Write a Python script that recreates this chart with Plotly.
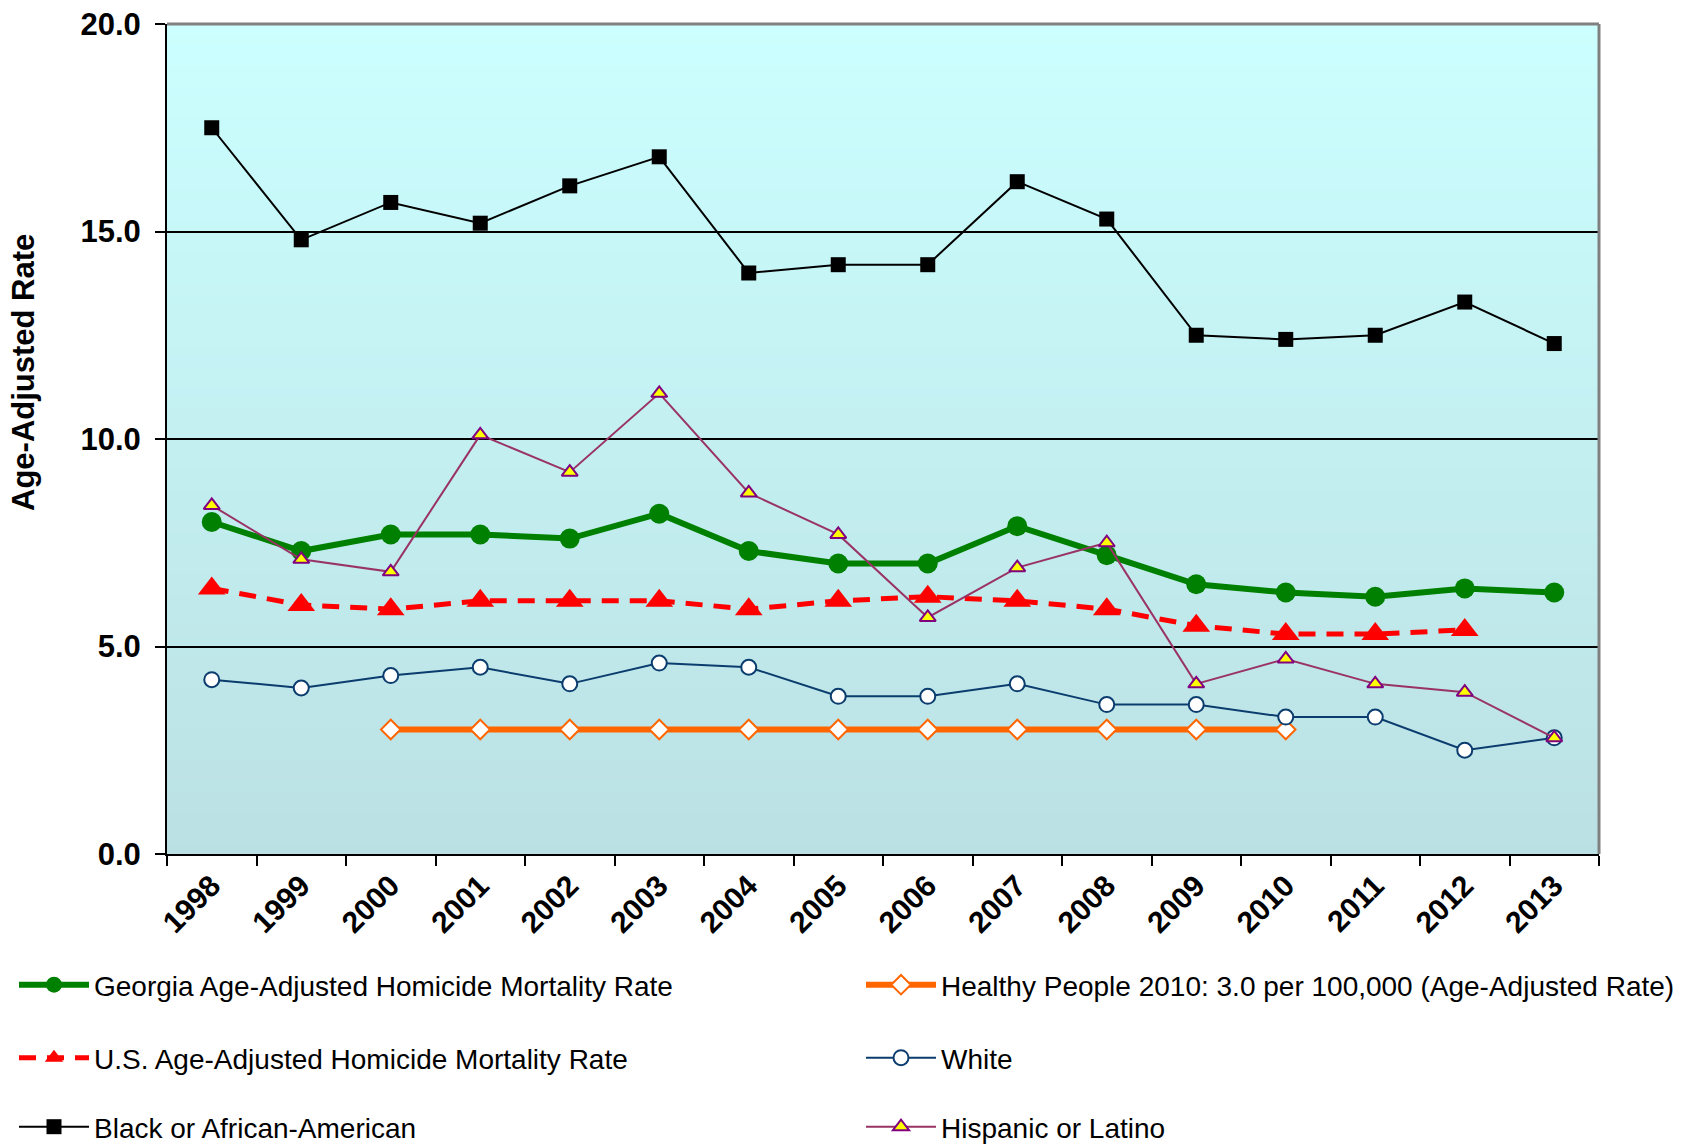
import plotly.graph_objects as go

# Years on the category axis
years = ["1998", "1999", "2000", "2001", "2002", "2003", "2004", "2005",
         "2006", "2007", "2008", "2009", "2010", "2011", "2012", "2013"]

# Age-adjusted homicide mortality rates per 100,000
georgia = [8.0, 7.3, 7.7, 7.7, 7.6, 8.2, 7.3, 7.0, 7.0, 7.9, 7.2, 6.5, 6.3, 6.2, 6.4, 6.3]
healthy_people_years = ["2000", "2001", "2002", "2003", "2004", "2005",
                        "2006", "2007", "2008", "2009", "2010"]
healthy_people = [3.0, 3.0, 3.0, 3.0, 3.0, 3.0, 3.0, 3.0, 3.0, 3.0, 3.0]
us_years = years[:-1]
us_rate = [6.4, 6.0, 5.9, 6.1, 6.1, 6.1, 5.9, 6.1, 6.2, 6.1, 5.9, 5.5, 5.3, 5.3, 5.4]
white = [4.2, 4.0, 4.3, 4.5, 4.1, 4.6, 4.5, 3.8, 3.8, 4.1, 3.6, 3.6, 3.3, 3.3, 2.5, 2.8]
black = [17.5, 14.8, 15.7, 15.2, 16.1, 16.8, 14.0, 14.2, 14.2, 16.2, 15.3, 12.5, 12.4, 12.5, 13.3, 12.3]
hispanic = [8.4, 7.1, 6.8, 10.1, 9.2, 11.1, 8.7, 7.7, 5.7, 6.9, 7.5, 4.1, 4.7, 4.1, 3.9, 2.8]

y_ticks = [0, 5, 10, 15, 20]

W, H = 1683, 1148
ML, MR, MT, MB = 167, 84, 24, 294
PW, PH = W - ML - MR, H - MT - MB

SANS = "Liberation Sans, Arial, sans-serif"
LEG_FONT = dict(family=SANS, size=28, color="black")


def px_x(px):
    return (px - ML) / PW


def px_y(py):
    return (H - MB - py) / PH


fig = go.Figure()

fig.add_trace(go.Scatter(
    x=years, y=georgia, name="Georgia Age-Adjusted Homicide Mortality Rate",
    mode="lines+markers", line=dict(color="#008000", width=6),
    marker=dict(symbol="circle", size=20, color="#008000"),
    legend="legend"))

fig.add_trace(go.Scatter(
    x=healthy_people_years, y=healthy_people,
    name="Healthy People 2010: 3.0 per 100,000 (Age-Adjusted Rate)",
    mode="lines+markers", line=dict(color="#FF6600", width=6),
    marker=dict(symbol="diamond", size=15, color="white",
                line=dict(color="#FF6600", width=2)),
    legend="legend2"))

fig.add_trace(go.Scatter(
    x=us_years, y=us_rate, name="U.S. Age-Adjusted Homicide Mortality Rate",
    mode="lines+markers", line=dict(color="#FF0000", width=5, dash="17px,11px"),
    marker=dict(symbol="triangle-up", size=24, color="#FF0000"),
    legend="legend3"))

fig.add_trace(go.Scatter(
    x=years, y=white, name="White",
    mode="lines+markers", line=dict(color="#0B3C6E", width=2),
    marker=dict(symbol="circle", size=15, color="white",
                line=dict(color="#0B3C6E", width=2)),
    legend="legend4"))

fig.add_trace(go.Scatter(
    x=years, y=black, name="Black or African-American",
    mode="lines+markers", line=dict(color="black", width=2),
    marker=dict(symbol="square", size=15, color="black"),
    legend="legend5"))

fig.add_trace(go.Scatter(
    x=years, y=hispanic, name="Hispanic or Latino",
    mode="lines+markers", line=dict(color="#993366", width=2),
    marker=dict(symbol="triangle-up", size=14, color="#FFFF00",
                line=dict(color="#800080", width=2)),
    legend="legend6"))

# Vertical gradient fill of the plotting area (light cyan to grey-teal)
top_rgb = (204, 255, 255)
bot_rgb = (187, 224, 227)
n_bands = 80
shapes = []
for i in range(n_bands):
    t = (i + 0.5) / n_bands
    c = tuple(round(top_rgb[k] + (bot_rgb[k] - top_rgb[k]) * t) for k in range(3))
    shapes.append(dict(type="rect", xref="x domain", yref="y domain",
                       x0=0, x1=1, y0=1 - (i + 1) / n_bands - 0.001, y1=1 - i / n_bands,
                       fillcolor="rgb(%d,%d,%d)" % c, line=dict(width=0), layer="below"))
# grey frame along the top and right edges
shapes.append(dict(type="line", xref="paper", yref="paper", x0=0, x1=1, y0=1, y1=1,
                   line=dict(color="#808080", width=3), layer="above"))
shapes.append(dict(type="line", xref="paper", yref="paper", x0=1, x1=1, y0=0, y1=1,
                   line=dict(color="#808080", width=3), layer="above"))

legend_common = dict(orientation="h", xanchor="left", yanchor="middle",
                     bgcolor="rgba(0,0,0,0)", font=LEG_FONT, itemwidth=70,
                     itemclick=False, itemdoubleclick=False)
col1, col2 = px_x(14), px_x(861)
row1, row2, row3 = px_y(985), px_y(1058), px_y(1127)

fig.update_layout(
    width=W, height=H,
    margin=dict(l=ML, r=MR, t=MT, b=MB, autoexpand=False),
    paper_bgcolor="white", plot_bgcolor="#CCFFFF",
    shapes=shapes,
    showlegend=True,
    legend=dict(x=col1, y=row1, **legend_common),
    legend2=dict(x=col2, y=row1, **legend_common),
    legend3=dict(x=col1, y=row2, **legend_common),
    legend4=dict(x=col2, y=row2, **legend_common),
    legend5=dict(x=col1, y=row3, **legend_common),
    legend6=dict(x=col2, y=row3, **legend_common),
    annotations=[dict(
        text="<b>Age-Adjusted Rate</b>", textangle=-90,
        xref="paper", yref="paper", x=px_x(23), y=px_y(373),
        xanchor="center", yanchor="middle", showarrow=False,
        font=dict(family=SANS, size=31, color="black"))],
    xaxis=dict(
        type="category", categoryorder="array", categoryarray=years,
        range=[-0.5, len(years) - 0.5], autorange=False,
        tickson="boundaries", ticks="outside", ticklen=10, tickwidth=2,
        tickcolor="black", tickangle=-45,
        tickfont=dict(family=SANS, size=30, color="black", weight="bold"),
        showline=True, linecolor="black", linewidth=2,
        showgrid=False, zeroline=False,
    ),
    yaxis=dict(
        range=[0, 20], autorange=False, tickvals=y_ticks, tickformat=".1f",
        ticks="outside", ticklen=10, tickwidth=2, tickcolor="black",
        ticklabelstandoff=8,
        tickfont=dict(family=SANS, size=31, color="black", weight="bold"),
        showline=True, linecolor="black", linewidth=2,
        showgrid=True, gridcolor="black", gridwidth=2, zeroline=False,
    ),
)

fig.write_html("out.html")
